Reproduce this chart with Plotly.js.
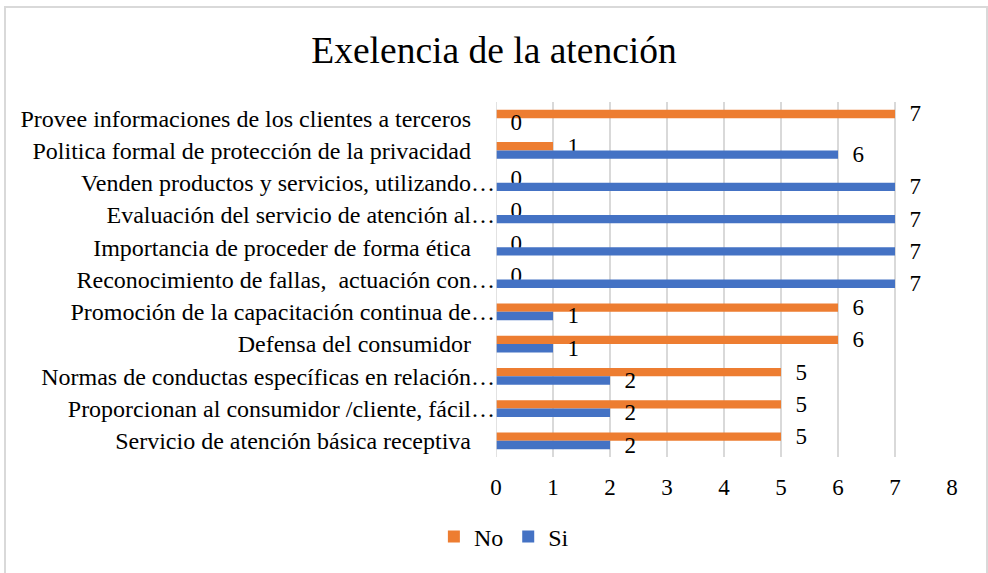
<!DOCTYPE html>
<html>
<head>
<meta charset="utf-8">
<script src="https://cdn.plot.ly/plotly-3.0.1.min.js"></script>
<style>
  body { margin: 0; background: #fff; }
  #wrap { position: relative; width: 988px; height: 573px; overflow: hidden; }
  #chart { width: 988px; height: 573px; }
  #frame { position: absolute; left: 4px; top: 6px; width: 980px; height: 590px;
           border: 2px solid #d9d9d9; pointer-events: none; }
</style>
</head>
<body>
<div id="wrap">
  <div id="chart"></div>
  <div id="frame"></div>
</div>
<script>
// categorias de arriba hacia abajo
var categorias = [
    "Provee informaciones de los clientes a terceros",
    "Politica formal de protección de la privacidad",
    "Venden productos y servicios, utilizando…",
    "Evaluación del servicio de atención al…",
    "Importancia de proceder de forma ética",
    "Reconocimiento de fallas,  actuación con…",
    "Promoción de la capacitación continua de…",
    "Defensa del consumidor",
    "Normas de conductas específicas en relación…",
    "Proporcionan al consumidor /cliente, fácil…",
    "Servicio de atención básica receptiva"
];
var valoresNo = [7, 1, 0, 0, 0, 0, 6, 6, 5, 5, 5];
var valoresSi = [0, 6, 7, 7, 7, 7, 1, 1, 2, 2, 2];
var ticksX = [0, 1, 2, 3, 4, 5, 6, 7, 8];

// las etiquetas completas llevan un espacio al final, como en el original
var etiquetas = categorias.map(c => c.endsWith("…") ? c : c + "\u00a0\u00a0\u00a0\u00a0");
// separacion entre la barra y su valor
var rotulo = v => "\u00a0\u00a0" + v;

var fuente = "Liberation Serif, Times New Roman, serif";

var trace1 = {
    y: etiquetas,
    x: valoresNo,
    name: 'No',
    orientation: 'h',
    type: 'bar',
    marker: { color: '#ED7D31' },
    text: valoresNo.map(rotulo),
    textposition: 'outside',
    constraintext: 'none',
    cliponaxis: false,
    textfont: { family: fuente, size: 23, color: '#000' },
    hoverinfo: 'none'
};

var trace2 = {
    y: etiquetas,
    x: valoresSi,
    name: 'Si',
    orientation: 'h',
    type: 'bar',
    marker: { color: '#4472C4' },
    text: valoresSi.map(rotulo),
    textposition: 'outside',
    constraintext: 'none',
    cliponaxis: false,
    textfont: { family: fuente, size: 23, color: '#000' },
    hoverinfo: 'none'
};

var layout = {
    width: 988,
    height: 573,
    margin: { l: 496, r: 36, t: 102, b: 116 },
    paper_bgcolor: '#fff',
    plot_bgcolor: '#fff',
    font: { family: fuente, size: 20, color: '#000' },
    title: {
        text: 'Exelencia de la atención',
        font: { family: fuente, size: 37.5, color: '#000' },
        x: 0.5, xref: 'container',
        y: 0.913, yref: 'container', yanchor: 'middle'
    },
    barmode: 'group',
    bargap: 0.48,
    bargroupgap: 0,
    xaxis: {
        range: [0, 8],
        tickvals: ticksX,
        ticktext: ticksX.map(String),
        showgrid: true,
        gridcolor: '#d9d9d9',
        gridwidth: 1.5,
        zeroline: false,
        showline: false,
        ticks: '',
        ticklabelstandoff: 14,
        tickfont: { family: fuente, size: 23, color: '#000' }
    },
    yaxis: {
        autorange: 'reversed',
        showgrid: false,
        zeroline: false,
        showline: false,
        ticks: '',
        ticklabelstandoff: 0,
        tickfont: { family: fuente, size: 24, color: '#000' }
    },
    showlegend: true,
    legend: {
        orientation: 'h',
        xref: 'container', x: 0.51, xanchor: 'center',
        yref: 'container', y: 0.063, yanchor: 'middle',
        font: { family: fuente, size: 24, color: '#000' },
        itemwidth: 30
    },
    shapes: [{
        type: 'line', xref: 'x', yref: 'paper',
        x0: 0, x1: 0, y0: 0, y1: 1,
        line: { color: '#d9d9d9', width: 1.5 }
    }]
};

var config = { displayModeBar: false, staticPlot: true };

Plotly.newPlot('chart', [trace1, trace2], layout, config);
</script>
</body>
</html>
